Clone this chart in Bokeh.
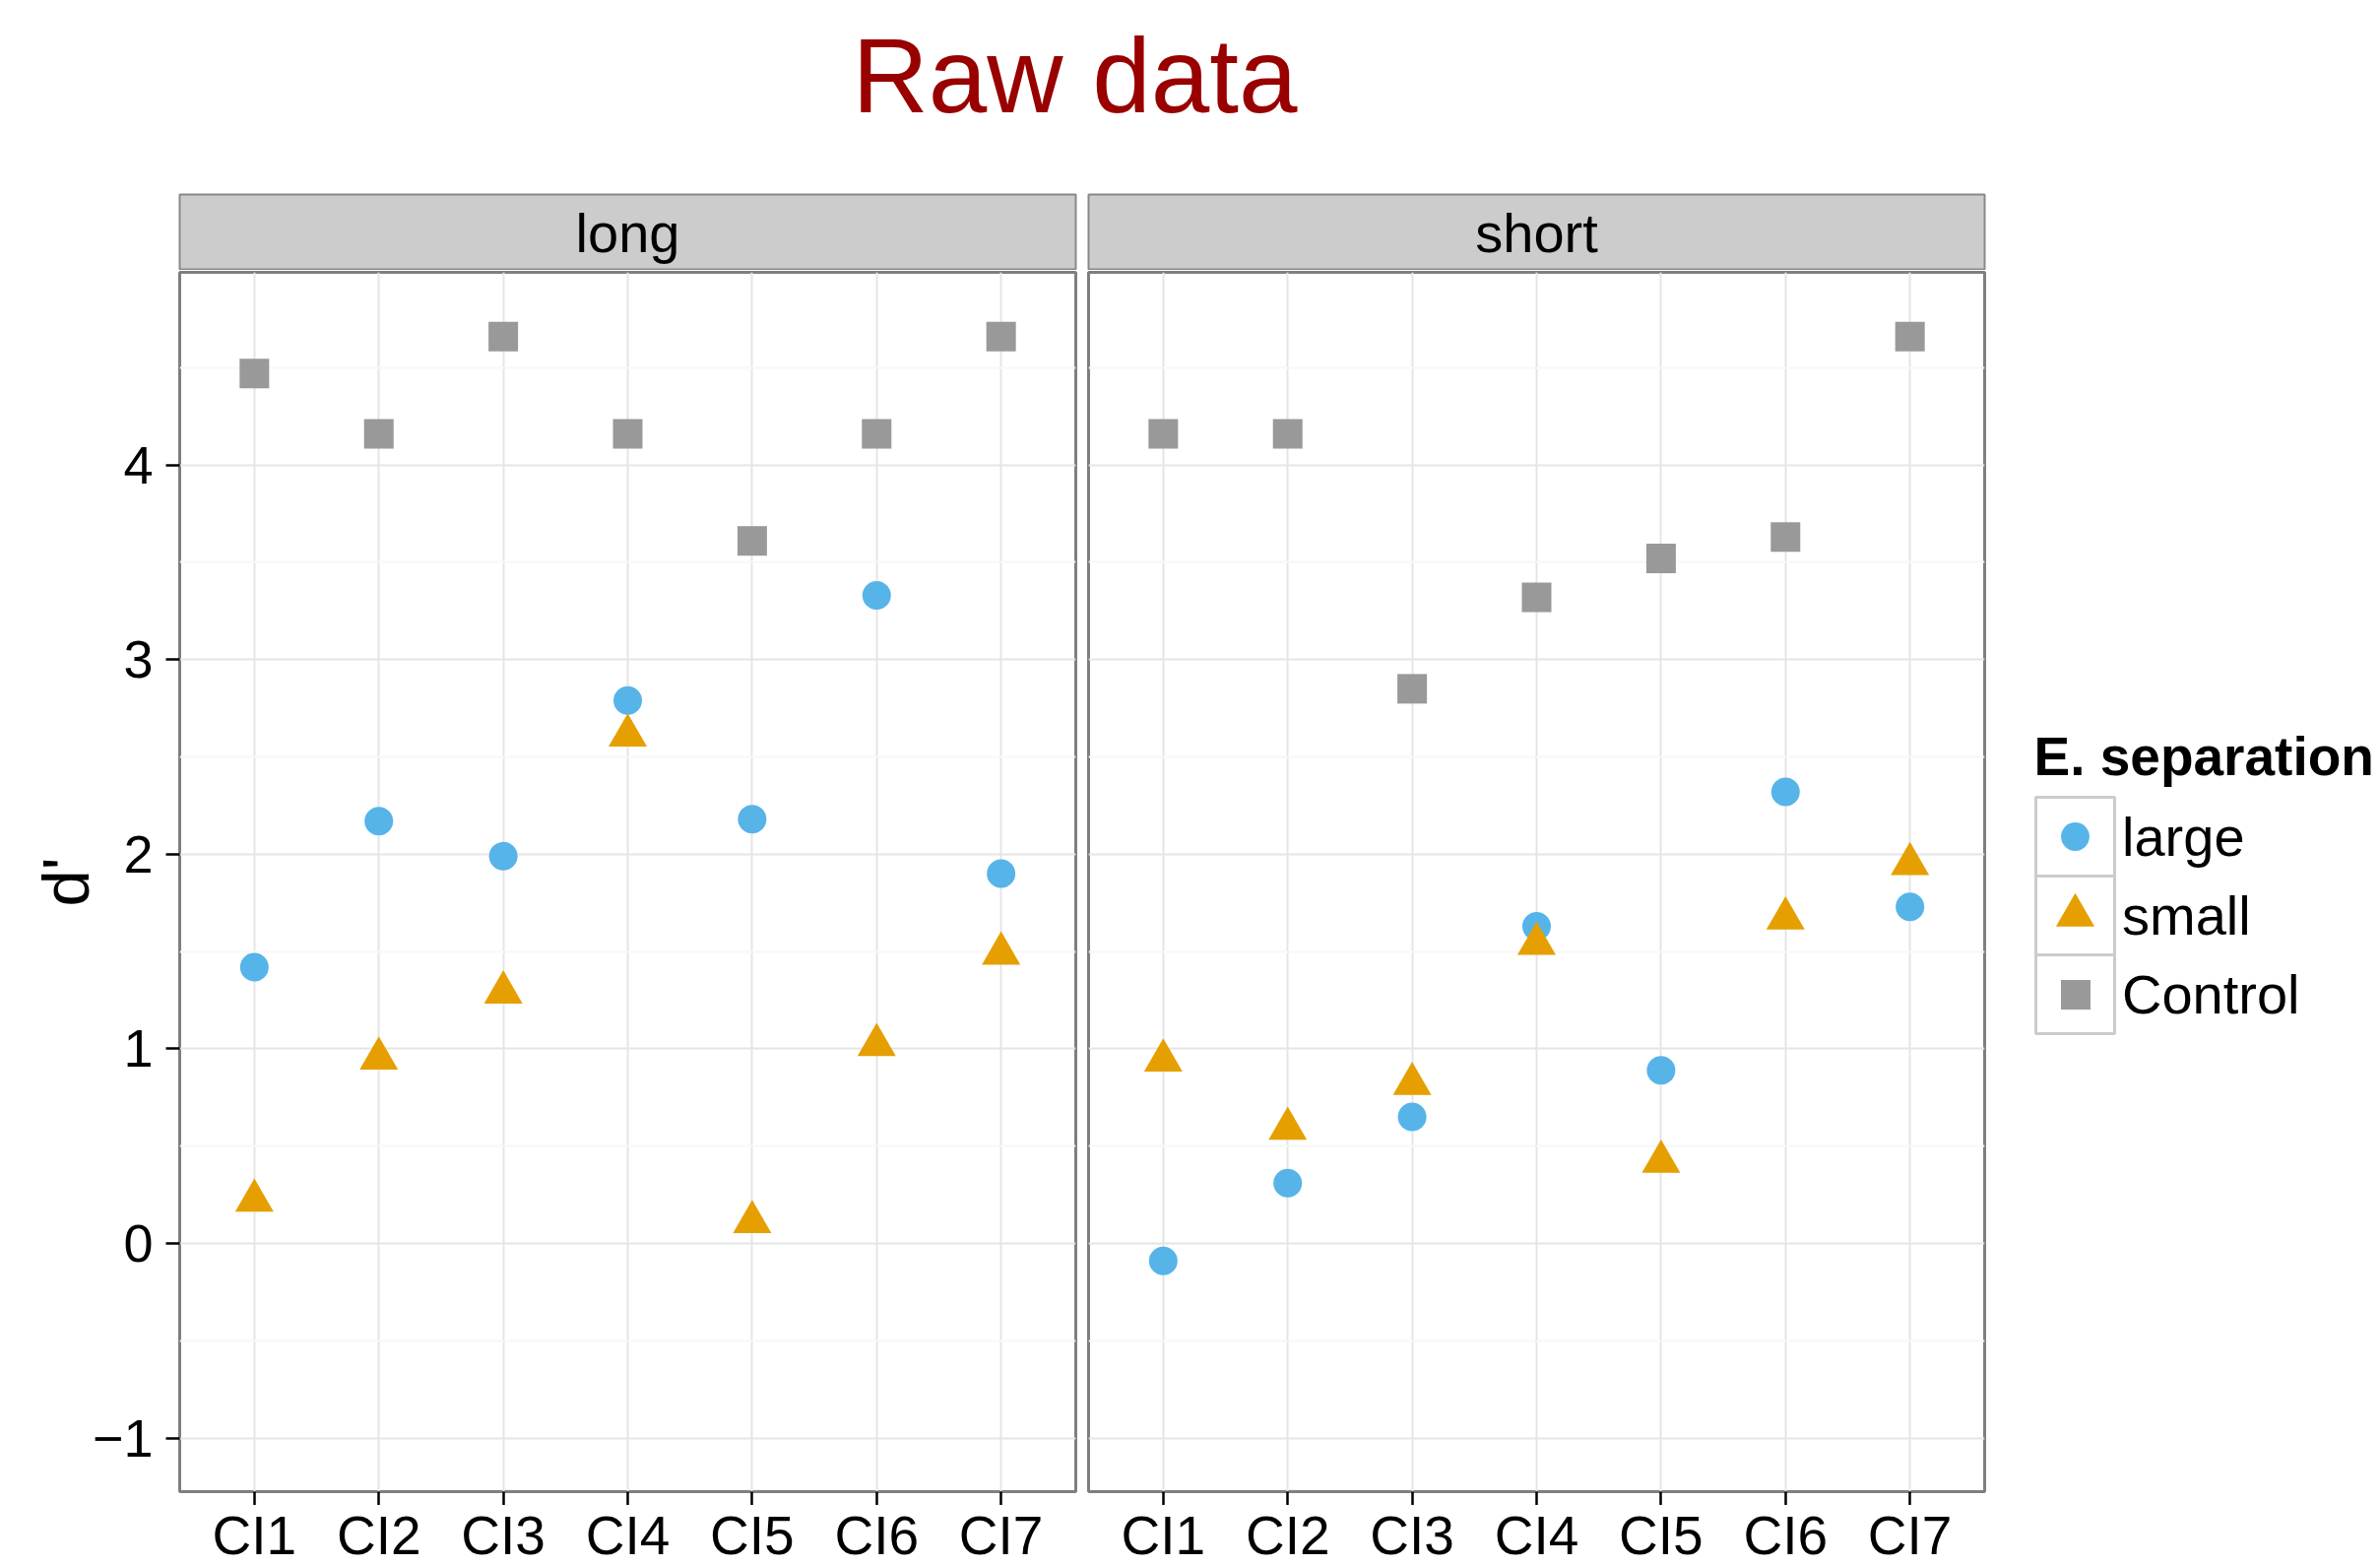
from bokeh.plotting import figure
from bokeh.models import (FactorRange, Range1d, FixedTicker, Label, Legend,
                          LegendItem, ColumnDataSource)
from bokeh.layouts import column, row
from bokeh.embed import file_html
from bokeh.resources import INLINE
from bokeh.core.properties import value

# ---------------- data ----------------
CATEGORIES = ["CI1", "CI2", "CI3", "CI4", "CI5", "CI6", "CI7"]
FACETS = ["long", "short"]
SERIES = ["large", "small", "Control"]

LONG_LARGE = [1.42, 2.17, 1.99, 2.79, 2.18, 3.33, 1.90]
LONG_SMALL = [0.22, 0.95, 1.29, 2.61, 0.11, 1.02, 1.49]
LONG_CONTROL = [4.47, 4.16, 4.66, 4.16, 3.61, 4.16, 4.66]

SHORT_LARGE = [-0.09, 0.31, 0.65, 1.63, 0.89, 2.32, 1.73]
SHORT_SMALL = [0.94, 0.59, 0.82, 1.54, 0.42, 1.67, 1.95]
SHORT_CONTROL = [4.16, 4.16, 2.85, 3.32, 3.52, 3.63, 4.66]

Y_TICKS = [-1, 0, 1, 2, 3, 4]
Y_TICK_LABELS = ["\u22121", "0", "1", "2", "3", "4"]
Y_MINOR = [-0.5, 0.5, 1.5, 2.5, 3.5, 4.5]

TITLE = "Raw data"
Y_LABEL = "d'"
LEGEND_TITLE = "E. separation"

# ---------------- style / layout ----------------
FONT = "Liberation Sans"
COLORS = {"large": "#56B4E9", "small": "#E69F00", "Control": "#999999"}
MARKERS = {"large": "circle", "small": "triangle", "Control": "square"}
SIZES = {"large": 29, "small": 39, "Control": 30}
Y_START, Y_END = -1.275, 4.99

WIDTHS = [1098, 927]
BORDERS = [(182, 6), (7, 10)]
TITLE_H, STRIP_H, PANEL_H, XLAB_H = 196, 78, 1254, 62
LEGEND_W = 2417 - sum(WIDTHS)
ROW_H = STRIP_H + PANEL_H + XLAB_H
NAN = float("nan")


def blank_fig(width, height, borders, x_range, y_range, top=0, bottom=0):
    p = figure(width=width, height=height, x_range=x_range, y_range=y_range,
               x_axis_location=None, y_axis_location=None, title=None,
               output_backend="svg", toolbar_location=None,
               min_border_left=borders[0], min_border_right=borders[1],
               min_border_top=top, min_border_bottom=bottom)
    p.grid.visible = False
    p.outline_line_color = None
    p.background_fill_color = "white"
    p.border_fill_color = "white"
    return p


def make_panel(idx, data):
    x_range = FactorRange(factors=CATEGORIES, range_padding=0.1,
                          range_padding_units="absolute")
    show_y = idx == 0
    p = figure(width=WIDTHS[idx], height=PANEL_H, x_range=x_range,
               y_range=Range1d(Y_START, Y_END), title=None,
               x_axis_location="below",
               y_axis_location="left" if show_y else None,
               output_backend="svg", toolbar_location=None,
               min_border_left=BORDERS[idx][0], min_border_right=BORDERS[idx][1],
               min_border_top=2, min_border_bottom=14)
    p.background_fill_color = "white"
    p.border_fill_color = "white"
    p.outline_line_color = "#7f7f7f"
    p.outline_line_width = 3

    p.xgrid.grid_line_color = "#e5e5e5"
    p.xgrid.grid_line_width = 2
    p.ygrid.ticker = FixedTicker(ticks=Y_TICKS, minor_ticks=Y_MINOR)
    p.ygrid.grid_line_color = "#e5e5e5"
    p.ygrid.grid_line_width = 2
    p.ygrid.minor_grid_line_color = "#f7f7f7"
    p.ygrid.minor_grid_line_width = 2

    # x axis: tick marks only; the category labels are drawn just below
    xa = p.xaxis[0]
    xa.axis_line_color = None
    xa.major_tick_out = 14
    xa.major_tick_in = 0
    xa.major_tick_line_color = "black"
    xa.major_tick_line_width = 2.5
    xa.major_label_text_font_size = "0px"
    xa.major_label_text_color = None
    xa.major_label_standoff = 0

    if show_y:
        ya = p.yaxis[0]
        ya.ticker = FixedTicker(ticks=Y_TICKS, minor_ticks=Y_MINOR)
        ya.major_label_overrides = {t: l for t, l in zip(Y_TICKS, Y_TICK_LABELS)}
        ya.axis_line_color = None
        ya.major_tick_out = 14
        ya.major_tick_in = 0
        ya.minor_tick_out = 0
        ya.minor_tick_in = 0
        ya.major_tick_line_color = "black"
        ya.major_tick_line_width = 2.5
        ya.major_label_text_font = FONT
        ya.major_label_text_font_size = "54px"
        ya.major_label_text_color = "black"
        ya.major_label_standoff = 13
        ya.axis_label = Y_LABEL
        ya.axis_label_text_font = FONT
        ya.axis_label_text_font_size = "67px"
        ya.axis_label_text_font_style = "normal"
        ya.axis_label_text_color = "black"
        ya.axis_label_standoff = -13

    src = ColumnDataSource(dict(cat=CATEGORIES, large=data[0], small=data[1],
                                Control=data[2]))
    for s in SERIES:
        p.scatter("cat", s, source=src, marker=MARKERS[s], size=SIZES[s],
                  fill_color=COLORS[s], line_color=None)
    return p


def make_strip(idx, text):
    s = blank_fig(WIDTHS[idx], STRIP_H, BORDERS[idx], Range1d(0, 1),
                  Range1d(0, 1), top=1, bottom=0)
    s.background_fill_color = "#cccccc"
    s.outline_line_color = "#888888"
    s.outline_line_width = 2
    s.add_layout(Label(x=0.5, y=38, y_units="screen", text=text,
                       text_align="center", text_baseline="alphabetic",
                       text_font=FONT, text_font_size="56px",
                       text_color="black"))
    return s


def make_xlabels(idx, x_range):
    f = blank_fig(WIDTHS[idx], XLAB_H, BORDERS[idx], x_range, Range1d(0, 1))
    f.text(x=CATEGORIES, y=[0.516] * len(CATEGORIES), text=CATEGORIES,
           text_align="center", text_baseline="alphabetic",
           text_font=value(FONT), text_font_size="55px", text_color="black")
    return f


panels = []
for i, data in enumerate([(LONG_LARGE, LONG_SMALL, LONG_CONTROL),
                          (SHORT_LARGE, SHORT_SMALL, SHORT_CONTROL)]):
    panels.append(make_panel(i, data))

# ---------------- legend figure ----------------
lf = blank_fig(LEGEND_W, ROW_H, (0, 0), Range1d(0, 1), Range1d(0, 1))
LX0, LY0 = sum(WIDTHS), TITLE_H + ROW_H  # legend-figure frame left / bottom (page px)
KEY_LEFT, KEY_TOP, KEY = 2067, 809, 80

lf.add_layout(Label(x=2065 - LX0, y=LY0 - 767, x_units="screen", y_units="screen",
                    text=LEGEND_TITLE, text_font=FONT, text_font_size="55px",
                    text_font_style="bold", text_color="black",
                    text_align="left", text_baseline="alphabetic"))

proxy = ColumnDataSource(dict(x=[NAN], y=[NAN]))
box_r = lf.rect("x", "y", source=proxy, width=1, height=1, fill_color="white",
                line_color="#cccccc", line_width=3)
ghost_r = lf.scatter("x", "y", source=proxy, size=1, fill_alpha=0, line_alpha=0)


def single_legend(renderer, glyph, left, top):
    return Legend(items=[LegendItem(label=" ", renderers=[renderer])],
                  location=(left - LX0, LY0 - top - glyph),
                  glyph_width=glyph, glyph_height=glyph, padding=0, margin=0,
                  spacing=0, label_standoff=0, label_height=0, label_width=0,
                  label_text_font_size="1px", background_fill_alpha=0,
                  border_line_color=None)


# key boxes (rect legend glyph is inset by 10% of its area)
for i, s in enumerate(SERIES):
    big = int(KEY / 0.8)
    lf.add_layout(single_legend(box_r, big, KEY_LEFT - (big - KEY) // 2,
                                KEY_TOP + i * KEY - (big - KEY) // 2))

# key symbols (legend marker size is 0.4 x glyph box)
for i, s in enumerate(SERIES):
    mr = lf.scatter("x", "y", source=proxy, marker=MARKERS[s], size=SIZES[s],
                    fill_color=COLORS[s], line_color=None)
    g = int(round(SIZES[s] / 0.4))
    cx = KEY_LEFT + KEY / 2
    cy = KEY_TOP + i * KEY + KEY / 2
    lf.add_layout(single_legend(mr, g, cx - g / 2, cy - g / 2))

# key labels
lf.add_layout(Legend(items=[LegendItem(label=s, renderers=[ghost_r]) for s in SERIES],
                     location=(KEY_LEFT - LX0, LY0 - KEY_TOP - 3 * KEY),
                     orientation="vertical", glyph_width=KEY, glyph_height=KEY,
                     spacing=0, padding=0, margin=0, label_standoff=8,
                     label_height=KEY, label_text_font=FONT,
                     label_text_font_size="56px", label_text_color="black",
                     background_fill_alpha=0, border_line_color=None))

# ---------------- title ----------------
tf = blank_fig(2417, TITLE_H, (0, 0), Range1d(0, 1), Range1d(0, 1))
tf.add_layout(Label(x=1091, y=TITLE_H - 76, x_units="screen", y_units="screen",
                    text=TITLE, text_font=FONT, text_font_size="107px",
                    text_color="#990000", text_align="center",
                    text_baseline="alphabetic"))

cols = []
for i in range(2):
    cols.append(column(make_strip(i, FACETS[i]), panels[i],
                       make_xlabels(i, panels[i].x_range), spacing=0))

layout = column(tf, row(*cols, lf, spacing=0), spacing=0)

open("out.html", "w").write(file_html(layout, INLINE))
